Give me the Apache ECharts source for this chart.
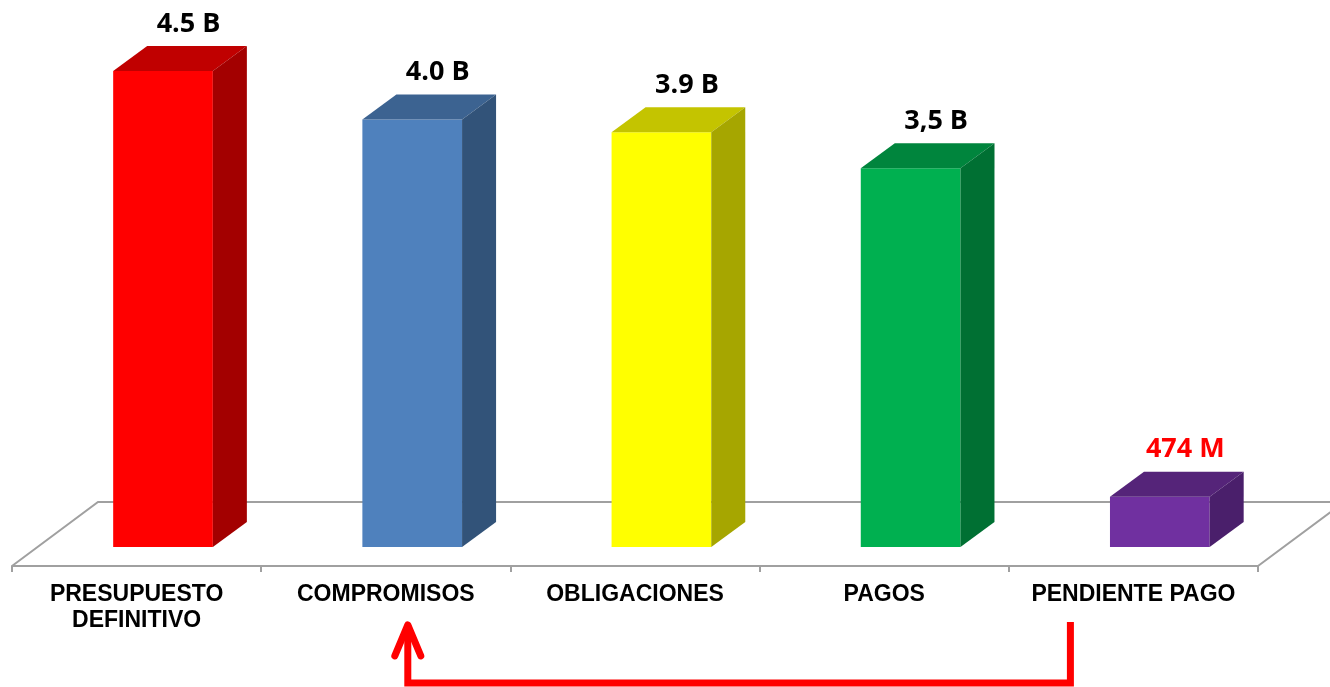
<!DOCTYPE html>
<html>
<head>
<meta charset="utf-8">
<script src="https://cdn.jsdelivr.net/npm/echarts@6/dist/echarts.min.js"></script>
<style>
  html, body { margin: 0; padding: 0; background: #fff; }
  #main { width: 1330px; height: 687px; }
</style>
</head>
<body>
<div id="main"></div>
<script>
// datos (miles de millones)
var categories = ['PRESUPUESTO\nDEFINITIVO', 'COMPROMISOS', 'OBLIGACIONES', 'PAGOS', 'PENDIENTE PAGO'];
var values = [4.5, 4.04, 3.92, 3.58, 0.474];
var valueLabels = ['4.5 B', '4.0 B', '3.9 B', '3,5 B', '474 M'];

// colores: frente, tapa, lado
var frontColors = ['#FF0000', '#4F81BD', '#FFFF00', '#00B050', '#7030A0'];
var topColors = ['#C00000', '#3C6391', '#C4C400', '#00853D', '#552479'];
var sideColors = ['#A30000', '#325379', '#A6A600', '#007033', '#4A1F6B'];
var labelColors = ['#000', '#000', '#000', '#000', '#FF0000'];

var chart = echarts.init(document.getElementById('main'));

function renderBar(params, api) {
  var i = api.value(0);
  var top = api.coord([i, api.value(1)]);
  var base = api.coord([i, 0]);
  var band = api.size([1, 0])[0];
  var w = band * 0.4;
  var dx = band * 0.1365;
  var dy = 25;
  var x0 = top[0] + band * 0.106 - w / 2;
  var x1 = x0 + w;
  var yt = top[1], yb = base[1];
  return {
    type: 'group',
    children: [
      { type: 'rect', shape: { x: x0, y: yt, width: w, height: yb - yt },
        style: { fill: frontColors[i] } },
      { type: 'polygon', shape: { points: [[x0, yt], [x0 + dx, yt - dy], [x1 + dx, yt - dy], [x1, yt]] },
        style: { fill: topColors[i] } },
      { type: 'polygon', shape: { points: [[x1, yt], [x1 + dx, yt - dy], [x1 + dx, yb - dy], [x1, yb]] },
        style: { fill: sideColors[i] } },
      { type: 'text', x: x0 + w / 2 + dx * 0.75, y: yt - dy - 22,
        style: { text: valueLabels[i], fill: labelColors[i], font: 'bold 27px "Open Sans"',
                 align: 'center', verticalAlign: 'middle' } }
    ]
  };
}

// piso en perspectiva (el borde frontal es el eje x)
function renderFloor(params, api) {
  var cs = params.coordSys;
  var yf = cs.y + cs.height;
  var yk = yf - 64;
  var xl = cs.x, xr = cs.x + cs.width;
  return {
    type: 'polyline',
    shape: { points: [[xl, yf], [xl + 86, yk], [xr + 86, yk], [xr, yf]] },
    style: { stroke: '#A0A0A0', lineWidth: 2, fill: null }
  };
}

function renderArrow(params, api) {
  var from = api.coord([4, 0]);
  var to = api.coord([1, 0]);
  var xa = from[0] - 63, xb = to[0] + 22;
  var yTop = from[1] + 76, yBot = from[1] + 136;
  var st = { stroke: '#FF0000', lineWidth: 7, fill: null, lineJoin: 'miter' };
  return {
    type: 'group',
    children: [
      { type: 'polyline', shape: { points: [[xa, yTop - 1], [xa, yBot], [xb, yBot], [xb, yTop + 4]] }, style: st },
      { type: 'polyline', shape: { points: [[xb - 13, yTop + 33], [xb, yTop + 2], [xb + 13, yTop + 33]] },
        style: { stroke: '#FF0000', lineWidth: 7, fill: null, lineCap: 'round', lineJoin: 'round' } }
    ]
  };
}

var option = {
  animation: false,
  backgroundColor: '#fff',
  grid: { left: 12, right: 72, top: 18, bottom: 121 },
  xAxis: {
    type: 'category',
    data: categories,
    axisLine: { onZero: false, lineStyle: { color: '#A0A0A0', width: 2 } },
    axisTick: { show: true, length: 6, lineStyle: { color: '#A0A0A0', width: 2 } },
    axisLabel: {
      interval: 0, margin: 16, color: '#000',
      fontFamily: 'Liberation Sans', fontWeight: 'bold', fontSize: 23, lineHeight: 26
    }
  },
  // el cero de las barras queda 19 px sobre el borde frontal del piso
  yAxis: { type: 'value', min: -0.18, max: 5, show: false },
  series: [
    { type: 'custom', z: 1, clip: false, renderItem: renderFloor, data: [[0, 0]], silent: true },
    { type: 'custom', z: 2, clip: false, renderItem: renderBar,
      data: values.map(function (v, i) { return [i, v]; }) },
    { type: 'custom', z: 3, clip: false, renderItem: renderArrow, data: [[0, 0]], silent: true }
  ]
};
chart.setOption(option);
</script>
</body>
</html>
